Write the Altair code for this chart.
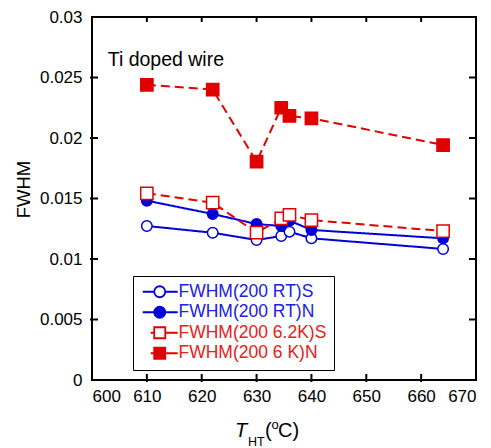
import altair as alt
import pandas as pd

# ---- data ----
temps = [610, 622, 630, 634.5, 636, 640, 664]
rt_s = [0.01273, 0.01217, 0.01157, 0.0119, 0.01226, 0.01171, 0.01083]
rt_n = [0.01482, 0.01372, 0.01289, 0.01273, 0.01317, 0.01240, 0.01171]
k62_s = [0.01543, 0.01466, 0.01217, 0.01336, 0.01364, 0.01322, 0.01231]
k6_n = [0.0244, 0.0240, 0.01804, 0.0225, 0.02182, 0.02163, 0.01942]
series_names = ["FWHM(200 RT)S", "FWHM(200 RT)N", "FWHM(200 6.2K)S", "FWHM(200 6 K)N"]
x_ticks = [610, 620, 630, 640, 650, 660]
y_ticks = [0.005, 0.01, 0.015, 0.02, 0.025]
x_labels = [600, 610, 620, 630, 640, 650, 660, 670]
y_labels = [0, 0.005, 0.01, 0.015, 0.02, 0.025, 0.03]

BLUE = "#0000d8"
RED = "#e00000"
FONT = "Liberation Sans"

rows = []
for name, vals in zip(series_names, [rt_s, rt_n, k62_s, k6_n]):
    for t, v in zip(temps, vals):
        rows.append({"T": t, "v": v, "series": name})
df = pd.DataFrame(rows)
df_x = pd.DataFrame({"T": x_ticks})
df_y = pd.DataFrame({"v": y_ticks})

W, H = 384, 363

xscale = alt.Scale(domain=[600, 670], nice=False, zero=False)
yscale = alt.Scale(domain=[0, 0.03], nice=False)

xax = alt.Axis(values=x_labels, format="d", ticks=False, tickSize=0, domain=False,
               grid=False, labelPadding=8, title=None, labelFontSize=17,
               labelFont=FONT, labelColor="black")
yax = alt.Axis(values=y_labels, format="~g", ticks=False, tickSize=0, domain=False,
               grid=False, labelPadding=10, title="FWHM", labelFontSize=17,
               labelFont=FONT, labelColor="black", titleFont=FONT, titleFontSize=18.5,
               titleFontWeight="normal", titleColor="black", titleX=-69, titleY=172,
               titleAngle=270, titleAlign="center", titleBaseline="middle")

X = alt.X("T:Q", scale=xscale, axis=xax)
Y = alt.Y("v:Q", scale=yscale, axis=yax)

stroke_cols = [BLUE, BLUE, RED, RED]
fill_cols = ["white", BLUE, "white", RED]
shapes = ["circle", "circle", "square", "square"]
sizes = [110, 110, 150, 150]
dashes = [[1, 0], [1, 0], [9, 5], [9, 5]]

color_scale = alt.Scale(domain=series_names, range=stroke_cols)
fill_scale = alt.Scale(domain=series_names, range=fill_cols)

circ_path = ("M-1,0 H0.91 M2.75,0 H4.83 M2.75,0 A0.92,0.92 0 1,1 0.91,0 "
             "A0.92,0.92 0 1,1 2.75,0 Z")
sq_path = ("M0.33,0 H0.91 M2.75,0 H4.83 M0.91,-0.92 H2.75 V0.92 H0.91 Z")
shape_scale = alt.Scale(domain=series_names, range=[circ_path, circ_path, sq_path, sq_path])

leg = alt.Legend(title=None, orient="none", legendX=41, legendY=259,
                 strokeColor="black", fillColor="white", padding=7,
                 labelFont=FONT, labelFontSize=17.5, labelOffset=21,
                 symbolSize=144, symbolStrokeWidth=1.8, rowPadding=1.5,
                 labelLimit=400,
                 labelExpr="datum.label + '    '",
                 labelColor={"expr": "indexof(datum.label, 'RT') >= 0 ? '#2020e0' : '#e82020'"})

layers = []
# lines
for i, name in enumerate(series_names):
    layers.append(
        alt.Chart(df).transform_filter(alt.datum.series == name)
        .mark_line(strokeWidth=2, color=stroke_cols[i], strokeDash=dashes[i])
        .encode(x=X, y=Y, order="T:Q"))
# markers
for i, name in enumerate(series_names):
    layers.append(
        alt.Chart(df).transform_filter(alt.datum.series == name)
        .mark_point(shape=shapes[i], size=sizes[i], strokeWidth=1.5, filled=True,
                    fill=fill_cols[i], stroke=stroke_cols[i], opacity=1, fillOpacity=1)
        .encode(x=X, y=Y))

# legend-only layer (draws nothing on the plot)
legend_layer = alt.Chart(df).transform_filter("false").mark_point(
    strokeWidth=1.8, opacity=1).encode(
    x=X, y=Y,
    color=alt.Color("series:N", scale=color_scale, legend=leg),
    fill=alt.Fill("series:N", scale=fill_scale, legend=leg),
    shape=alt.Shape("series:N", scale=shape_scale, legend=leg))
layers.append(legend_layer)

# inward tick marks on the four sides
tick_style = dict(color="black", strokeWidth=2)
bottom_ticks = alt.Chart(df_x).mark_rule(**tick_style).encode(
    x=X, y=alt.value(H - 6), y2=alt.value(H + 2))
top_ticks = alt.Chart(df_x).mark_rule(**tick_style).encode(
    x=X, y=alt.value(0), y2=alt.value(5))
left_ticks = alt.Chart(df_y).mark_rule(**tick_style).encode(
    y=Y, x=alt.value(-2), x2=alt.value(6))
right_ticks = alt.Chart(df_y).mark_rule(**tick_style).encode(
    y=Y, x=alt.value(W - 7), x2=alt.value(W))
layers += [bottom_ticks, top_ticks, left_ticks, right_ticks]


def text_piece(txt, xpos, ypos, size, style="normal"):
    return alt.Chart(pd.DataFrame({"a": [0]})).mark_text(
        text=txt, align="left", baseline="alphabetic", font=FONT,
        fontSize=size, fontStyle=style, color="black").encode(
        x=alt.value(xpos), y=alt.value(ypos))


layers.append(text_piece("Ti doped wire", 15.7, 49, 19.5))
layers += [text_piece("T", 143, 420, 20, "italic"),
           text_piece("HT", 156, 429, 12.5),
           text_piece("(", 173, 420, 20),
           text_piece("o", 179.5, 412, 13),
           text_piece("C)", 186, 420, 20)]

chart = alt.layer(*layers).properties(
    width=W, height=H,
    background="white",
    autosize=alt.AutoSizeParams(type="none"),
    padding={"left": 84, "top": 9, "right": 7, "bottom": 68},
).configure_view(
    stroke="black", strokeWidth=2
)

chart.save("out.html", embed_options={"renderer": "svg", "actions": False})
